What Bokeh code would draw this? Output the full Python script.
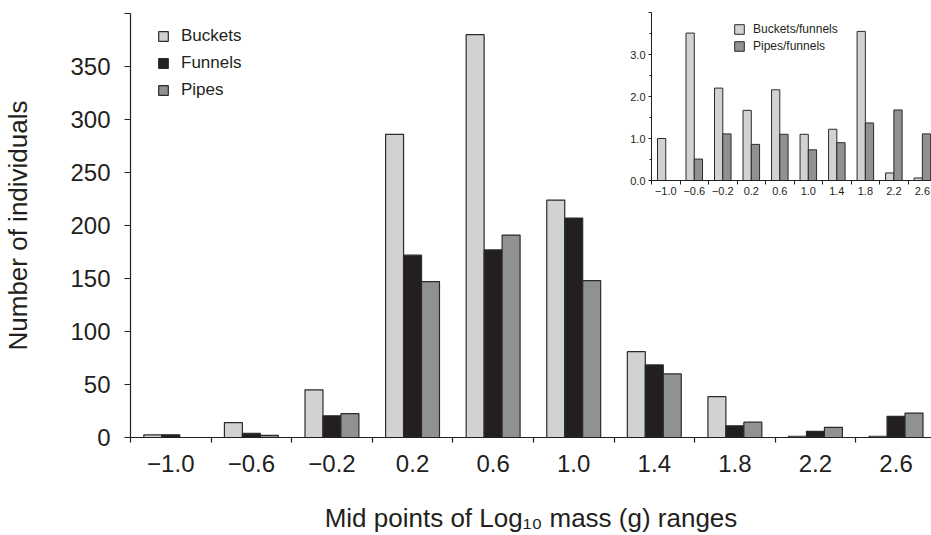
from bokeh.plotting import figure
from bokeh.models import ColumnDataSource, FixedTicker, Legend, LegendItem, Range1d
from bokeh.layouts import column
from bokeh.embed import file_html
from bokeh.resources import INLINE

nan = float("nan")

# ---- data ----
mid_points = ["\u22121.0", "\u22120.6", "\u22120.2", "0.2", "0.6", "1.0", "1.4", "1.8", "2.2", "2.6"]
buckets = [2.5, 14, 45, 286, 380, 224, 81, 38.5, 1.2, 1.2]
funnels = [2.5, 4, 20.5, 172, 177, 207, 68.5, 11, 5.8, 20]
pipes = [nan, 2, 22.5, 147, 191, 148, 60, 14.5, 9.6, 23]

ratio_buckets_funnels = [1.0, 3.51, 2.20, 1.67, 2.16, 1.10, 1.22, 3.55, 0.18, 0.06]
ratio_pipes_funnels = [nan, 0.51, 1.11, 0.86, 1.10, 0.73, 0.90, 1.37, 1.68, 1.11]

main_ticks = [0, 50, 100, 150, 200, 250, 300, 350, 400]
inset_ticks = [0, 1, 2, 3, 4]
inset_minor = [0.5, 1.5, 2.5, 3.5]

# ---- styles ----
FONT = "Liberation Sans"
TXT = "#231f20"
C_B = "#d1d2d4"
C_F = "#231f20"
C_P = "#8f9193"
EDGE = "#2b2b2b"

idx = list(range(len(mid_points)))
bw = 0.223
src = ColumnDataSource(dict(
    xb=[i - bw for i in idx], xf=idx, xp=[i + bw for i in idx],
    buckets=buckets, funnels=funnels, pipes=pipes,
))

main = figure(width=931, height=535, output_backend="svg", toolbar_location=None,
              x_range=Range1d(-0.5, 9.44), y_range=Range1d(0, 400),
              min_border_left=130, min_border_right=0, min_border_top=13, min_border_bottom=98)
main.frame_align = False
main.outline_line_color = None
main.xgrid.visible = False
main.ygrid.visible = False

rb = main.vbar(x="xb", top="buckets", width=bw, source=src, fill_color=C_B, line_color=EDGE, line_width=1.2)
rf = main.vbar(x="xf", top="funnels", width=bw, source=src, fill_color=C_F, line_color=EDGE, line_width=1.2)
rp = main.vbar(x="xp", top="pipes", width=bw, source=src, fill_color=C_P, line_color=EDGE, line_width=1.2)

xa = main.xaxis[0]
xa.ticker = FixedTicker(ticks=idx, minor_ticks=[i - 0.5 for i in range(len(mid_points) + 1)])
xa.major_label_overrides = {i: lab for i, lab in enumerate(mid_points)}
xa.major_tick_line_color = None
xa.major_tick_out = 5
xa.major_tick_in = 0
xa.minor_tick_out = 5
xa.minor_tick_in = 0
xa.minor_tick_line_color = TXT
xa.minor_tick_line_width = 1.2
xa.axis_line_color = TXT
xa.axis_line_width = 1.2
xa.major_label_standoff = 12
xa.major_label_text_font = FONT
xa.major_label_text_font_size = "24px"
xa.major_label_text_color = TXT
xa.axis_label = "Mid points of Log\u2081\u2080 mass (g) ranges"
xa.axis_label_text_font = FONT
xa.axis_label_text_font_size = "26px"
xa.axis_label_text_font_style = "normal"
xa.axis_label_text_color = TXT
xa.axis_label_standoff = 28

ya = main.yaxis[0]
ya.ticker = FixedTicker(ticks=main_ticks, minor_ticks=[])
ya.major_label_overrides = {400: ""}
ya.major_tick_out = 6
ya.major_tick_in = 0
ya.major_tick_line_color = TXT
ya.major_tick_line_width = 1.2
ya.axis_line_color = TXT
ya.axis_line_width = 1.2
ya.major_label_standoff = 14
ya.major_label_text_font = FONT
ya.major_label_text_font_size = "24px"
ya.major_label_text_color = TXT
ya.axis_label = "Number of individuals"
ya.axis_label_text_font = FONT
ya.axis_label_text_font_size = "26px"
ya.axis_label_text_font_style = "normal"
ya.axis_label_text_color = TXT
ya.axis_label_standoff = 34

leg = Legend(items=[LegendItem(label="Buckets", renderers=[rb]),
                    LegendItem(label="Funnels", renderers=[rf]),
                    LegendItem(label="Pipes", renderers=[rp])],
             location=(27, 337), glyph_width=12, glyph_height=12, label_standoff=12,
             spacing=7, padding=0, margin=0, label_height=20,
             border_line_color=None, background_fill_alpha=0,
             label_text_font=FONT, label_text_font_size="17px", label_text_color=TXT)
main.add_layout(leg)

# ---- inset ----
iw = 0.29
isrc = ColumnDataSource(dict(
    xb=[i - iw / 2 for i in idx], xp=[i + iw / 2 for i in idx],
    rb=ratio_buckets_funnels, rp=ratio_pipes_funnels,
))
inset = figure(width=331, height=213, output_backend="svg", toolbar_location=None,
               x_range=Range1d(-0.5, 9.32), y_range=Range1d(0, 4.0),
               min_border_left=51, min_border_right=0, min_border_top=12, min_border_bottom=33)
inset.frame_align = False
inset.outline_line_color = None
inset.xgrid.visible = False
inset.ygrid.visible = False
inset.background_fill_alpha = 0
inset.border_fill_alpha = 0
irb = inset.vbar(x="xb", top="rb", width=iw, source=isrc, fill_color=C_B, line_color=EDGE, line_width=1.0)
irp = inset.vbar(x="xp", top="rp", width=iw, source=isrc, fill_color=C_P, line_color=EDGE, line_width=1.0)

ixa = inset.xaxis[0]
ixa.ticker = FixedTicker(ticks=idx, minor_ticks=[i - 0.5 for i in range(len(mid_points) + 1)])
ixa.major_label_overrides = {i: lab for i, lab in enumerate(mid_points)}
ixa.major_tick_line_color = None
ixa.major_tick_out = 4
ixa.major_tick_in = 0
ixa.minor_tick_out = 4
ixa.minor_tick_in = 0
ixa.minor_tick_line_color = TXT
ixa.axis_line_color = TXT
ixa.axis_line_width = 1.0
ixa.major_label_standoff = 2
ixa.major_label_text_font = FONT
ixa.major_label_text_font_size = "11px"
ixa.major_label_text_color = TXT

iya = inset.yaxis[0]
iya.ticker = FixedTicker(ticks=inset_ticks, minor_ticks=inset_minor)
iya.major_label_overrides = {0: "0.0", 1: "1.0", 2: "2.0", 3: "3.0", 4: ""}
iya.major_tick_out = 3
iya.major_tick_in = 0
iya.minor_tick_out = 2
iya.minor_tick_in = 0
iya.major_tick_line_color = TXT
iya.minor_tick_line_color = TXT
iya.axis_line_color = TXT
iya.axis_line_width = 1.0
iya.major_label_standoff = 3
iya.major_label_text_font = FONT
iya.major_label_text_font_size = "11px"
iya.major_label_text_color = TXT

ileg = Legend(items=[LegendItem(label="Buckets/funnels", renderers=[irb]),
                     LegendItem(label="Pipes/funnels", renderers=[irp])],
              location=(82, 127), glyph_width=12, glyph_height=12, label_standoff=8,
              spacing=3, padding=0, margin=0, label_height=14,
              border_line_color=None, background_fill_alpha=0,
              label_text_font=FONT, label_text_font_size="12px", label_text_color=TXT)
inset.add_layout(ileg)

inset.styles = {"position": "absolute", "left": "600px", "top": "0px"}
layout = column(main, inset)

open("out.html", "w").write(file_html(layout, INLINE))
